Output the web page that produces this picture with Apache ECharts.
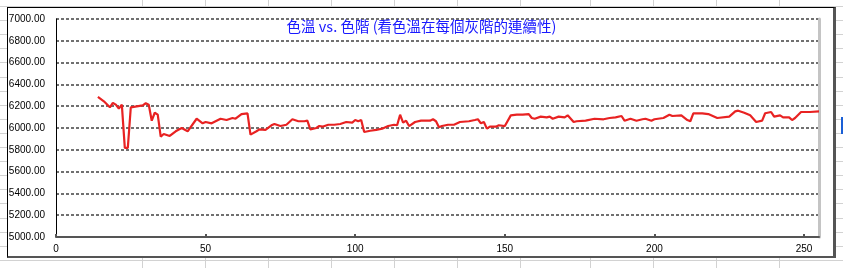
<!DOCTYPE html>
<html>
<head>
<meta charset="utf-8">
<script src="https://cdn.jsdelivr.net/npm/echarts@6/dist/echarts.min.js"></script>
<style>
html,body{margin:0;padding:0;background:#fff;}
#sheet{position:absolute;left:0;top:0;width:843px;height:268px;overflow:hidden;}
.vl{position:absolute;top:0;width:1px;height:268px;background:#d2d2d2;}
.hl{position:absolute;left:0;height:1px;width:843px;background:#d2d2d2;}
#frame{position:absolute;left:7px;top:7px;width:829px;height:251px;box-sizing:border-box;background:#fff;
  border-left:1px solid #000;border-top:1px solid #000;border-right:3px solid #555;border-bottom:2px solid #555;}
#sel{position:absolute;left:841px;top:117px;width:2px;height:17px;background:#1a5fd6;}
#chart{position:absolute;left:0;top:0;width:843px;height:268px;}
</style>
</head>
<body>
<div id="sheet"></div>
<div id="frame"></div>
<div id="sel"></div>
<div id="chart"></div>
<script>
const titleText = '色溫 vs. 色階 (看色溫在每個灰階的連續性)';
const yTicks = [5000, 5200, 5400, 5600, 5800, 6000, 6200, 6400, 6600, 6800, 7000];
const xTicks = [0, 50, 100, 150, 200, 250];
const grayLevels = [14,16,18,19,20,21,22,23,24,25,27,29,30,31,32,33,34,35,36,38,40,42,44,47,49,50,52,55,57,59,60,62,64,65,67,68,70,72,73,75,77,79,81,83,84,85,87,88,89,91,93,95,97,99,100,101,102,103,105,107,109,111,113,114,115,116,117,118,120,122,125,126,127,128,129,131,133,135,138,140,141,142,143,144,145,147,148,150,152,154,156,158,159,160,162,164,165,166,168,170,171,173,174,177,180,183,185,187,189,190,192,194,196,197,199,200,203,205,206,209,211,212,213,216,218,221,225,227,228,230,232,234,236,237,239,240,242,243,245,246,247,249,252,255];
const colorTemp = [6285,6245,6190,6230,6214,6177,6214,5817,5817,6190,6199,6208,6227,6214,6067,6140,6122,5920,5945,5927,5970,6000,5970,6085,6043,6055,6043,6085,6073,6092,6085,6128,6135,5939,5970,5988,5982,6025,6037,6018,6030,6080,6062,6062,6067,5988,6000,6018,6012,6030,6030,6037,6055,6049,6073,6062,6073,5963,5975,5982,5994,6018,6030,6025,6122,6049,6067,6018,6055,6067,6067,6080,6062,6006,6018,6030,6030,6055,6062,6073,6080,6043,6055,5994,6012,6012,6025,6018,6116,6122,6122,6128,6092,6085,6104,6098,6104,6085,6104,6098,6116,6055,6062,6067,6085,6080,6092,6098,6110,6067,6085,6067,6080,6085,6067,6080,6092,6122,6110,6116,6073,6062,6135,6135,6128,6092,6104,6153,6159,6140,6116,6055,6067,6135,6147,6104,6116,6098,6098,6073,6092,6147,6147,6153];

// spreadsheet background lines (decoration)
const sheet = document.getElementById('sheet');
[142,205,268,331,394,457,520,590,653,716,779].forEach(x => {
  const d = document.createElement('div'); d.className = 'vl'; d.style.left = x + 'px'; sheet.appendChild(d);
});
for (let k = 0; k < 19; k++) {
  const d = document.createElement('div'); d.className = 'hl'; d.style.top = Math.round(6 + 14.1 * k) + 'px'; sheet.appendChild(d);
}

const seriesData = grayLevels.map((g, i) => [g, colorTemp[i]]);
const chart = echarts.init(document.getElementById('chart'), null, {renderer: 'canvas'});
chart.setOption({
  backgroundColor: 'transparent',
  animation: false,
  title: {
    text: titleText, left: 'center', top: 14,
    textStyle: {color: '#1a1aff', fontSize: 14.5, fontWeight: 'normal', fontFamily: '"Noto Sans CJK TC", sans-serif'}
  },
  grid: {left: 56, top: 19, width: 763, height: 218, containLabel: false},
  xAxis: {
    type: 'value', min: 0, max: 255, interval: 50,
    axisLine: {show: true, lineStyle: {color: '#555', width: 2}},
    axisTick: {show: true, inside: true, length: 3, customValues: xTicks, lineStyle: {color: '#555', width: 2}},
    axisLabel: {color: '#000', fontSize: 10, fontFamily: '"Liberation Sans", Arial, sans-serif', margin: 7,
      showMaxLabel: true,
      formatter: v => xTicks.includes(v) ? String(v) : ''},
    splitLine: {show: false}
  },
  yAxis: [{
    type: 'value', min: 5000, max: 7000, interval: 200,
    axisLine: {show: true, lineStyle: {color: '#000', width: 1}},
    axisTick: {show: false},
    axisLabel: {color: '#000', fontSize: 10, fontFamily: '"Liberation Sans", Arial, sans-serif', margin: 11,
      formatter: v => yTicks.includes(v) ? v.toFixed(2) : ''},
    splitLine: {show: true, lineStyle: {color: '#707070', width: 2, type: [3, 2]}}
  }, {
    type: 'value', min: 5000, max: 7000, position: 'right',
    axisLine: {show: true, lineStyle: {color: '#c4c4c4', width: 3}},
    axisTick: {show: false}, axisLabel: {show: false}, splitLine: {show: false}
  }],
  series: [{
    type: 'line', data: seriesData, showSymbol: false, symbol: 'none',
    lineStyle: {color: '#e82222', width: 2.2}, smooth: false
  }]
});
</script>
</body>
</html>
